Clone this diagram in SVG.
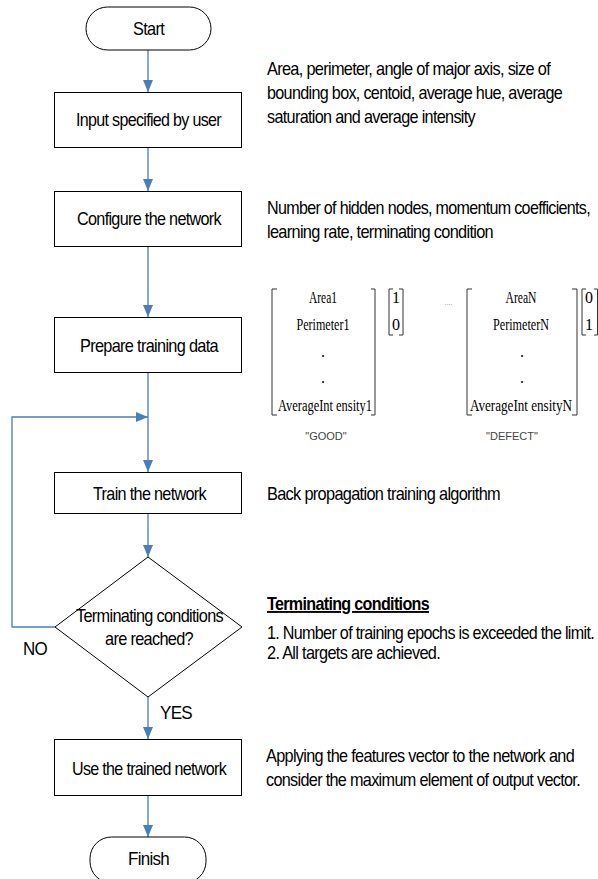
<svg xmlns="http://www.w3.org/2000/svg" width="598" height="879" viewBox="0 0 598 879">
<style>
.bg{fill:#fff}
.shape{fill:#fff;stroke:#000;stroke-width:1}
.t{font-family:"Liberation Sans",Arial,sans-serif;font-size:19px;fill:#000;letter-spacing:-0.8px}
.c{text-anchor:middle}
.m{font-family:"Liberation Serif","Times New Roman",serif;font-size:16px;fill:#000;text-anchor:middle}
.q{font-family:"Liberation Sans",Arial,sans-serif;font-size:11px;fill:#444;text-anchor:middle}
.br{fill:none;stroke:#333;stroke-width:1}
.conn{fill:none;stroke:#4a7ebb;stroke-width:1.3}
</style>
<defs>
<marker id="ah" markerUnits="userSpaceOnUse" markerWidth="12" markerHeight="10" refX="12" refY="5" orient="auto">
<path d="M0,0 L12,5 L0,10 z" fill="#4a7ebb"/>
</marker>
</defs>
<rect class="bg" x="0" y="0" width="598" height="879"/>

<g id="connectors">
<line class="conn" x1="148" y1="50" x2="148" y2="92" marker-end="url(#ah)"/>
<line class="conn" x1="148" y1="148" x2="148" y2="191" marker-end="url(#ah)"/>
<line class="conn" x1="148" y1="247" x2="148" y2="317" marker-end="url(#ah)"/>
<line class="conn" x1="148" y1="373" x2="148" y2="472" marker-end="url(#ah)"/>
<polyline class="conn" points="55,627 12,627 12,417 148,417" marker-end="url(#ah)"/>
<line class="conn" x1="148" y1="514" x2="148" y2="557" marker-end="url(#ah)"/>
<line class="conn" x1="148" y1="697" x2="148" y2="739" marker-end="url(#ah)"/>
<line class="conn" x1="148" y1="796" x2="148" y2="837" marker-end="url(#ah)"/>
<text class="t" x="23" y="655" textLength="24" lengthAdjust="spacingAndGlyphs">NO</text>
<text class="t" x="160" y="719" textLength="32" lengthAdjust="spacingAndGlyphs">YES</text>
</g>

<g id="start">
<rect class="shape" x="86" y="7" width="125" height="43" rx="21.5" ry="21.5"/>
<text class="t c" x="148.5" y="35" textLength="31" lengthAdjust="spacingAndGlyphs">Start</text>
</g>

<g id="input">
<rect class="shape" x="54.5" y="92.5" width="187" height="55"/>
<text class="t c" x="148.5" y="126" textLength="145" lengthAdjust="spacingAndGlyphs">Input specified by user</text>
</g>

<g id="configure">
<rect class="shape" x="54.5" y="191.5" width="187" height="55"/>
<text class="t c" x="149" y="225" textLength="144" lengthAdjust="spacingAndGlyphs">Configure the network</text>
</g>

<g id="prepare">
<rect class="shape" x="54.5" y="317.5" width="187" height="55"/>
<text class="t c" x="149" y="352" textLength="138" lengthAdjust="spacingAndGlyphs">Prepare training data</text>
</g>

<g id="train">
<rect class="shape" x="54.5" y="472.5" width="187" height="41"/>
<text class="t c" x="149.5" y="500" textLength="113" lengthAdjust="spacingAndGlyphs">Train the network</text>
</g>

<g id="decision">
<polygon class="shape" points="148,557 242,627 148,697 55,627"/>
<text class="t c" x="149.5" y="622" textLength="147" lengthAdjust="spacingAndGlyphs">Terminating conditions</text>
<text class="t c" x="149" y="645" textLength="88" lengthAdjust="spacingAndGlyphs">are reached?</text>
</g>

<g id="use">
<rect class="shape" x="54.5" y="739.5" width="187" height="56"/>
<text class="t c" x="149" y="775" textLength="154" lengthAdjust="spacingAndGlyphs">Use the trained network</text>
</g>

<g id="finish">
<rect class="shape" x="90" y="837" width="116" height="46" rx="21.5" ry="21.5"/>
<text class="t c" x="148.5" y="865" textLength="41" lengthAdjust="spacingAndGlyphs">Finish</text>
</g>

<g id="note-input">
<text class="t" x="267" y="75" textLength="283" lengthAdjust="spacingAndGlyphs">Area, perimeter, angle of major axis, size of</text>
<text class="t" x="267" y="99" textLength="295" lengthAdjust="spacingAndGlyphs">bounding box, centoid, average hue, average</text>
<text class="t" x="267" y="123" textLength="208" lengthAdjust="spacingAndGlyphs">saturation and average intensity</text>
</g>

<g id="note-configure">
<text class="t" x="267" y="214" textLength="323" lengthAdjust="spacingAndGlyphs">Number of hidden nodes, momentum coefficients,</text>
<text class="t" x="267" y="238" textLength="226" lengthAdjust="spacingAndGlyphs">learning rate, terminating condition</text>
</g>

<g id="note-data">
<path class="br" d="M277,289 H272 V415 H277"/>
<path class="br" d="M371,289 H375 V415 H371"/>
<text class="m" x="323" y="303" textLength="28" lengthAdjust="spacingAndGlyphs">Area1</text>
<text class="m" x="323" y="330" textLength="53" lengthAdjust="spacingAndGlyphs">Perimeter1</text>
<text class="m" x="323" y="357">.</text>
<text class="m" x="323" y="383">.</text>
<text class="m" x="325" y="411" textLength="94" lengthAdjust="spacingAndGlyphs">AverageInt ensity1</text>
<path class="br" d="M393,289 H389 V335 H393"/>
<path class="br" d="M399,289 H403 V335 H399"/>
<text class="m" x="396" y="303">1</text>
<text class="m" x="396" y="330">0</text>
<text x="448.5" y="305" font-family="Liberation Sans, Arial, sans-serif" font-size="7" fill="#888" text-anchor="middle">....</text>
<path class="br" d="M472,289 H467 V415 H472"/>
<path class="br" d="M572,289 H577 V415 H572"/>
<text class="m" x="521" y="303" textLength="31" lengthAdjust="spacingAndGlyphs">AreaN</text>
<text class="m" x="521" y="330" textLength="56" lengthAdjust="spacingAndGlyphs">PerimeterN</text>
<text class="m" x="522" y="357">.</text>
<text class="m" x="522" y="383">.</text>
<text class="m" x="521" y="411" textLength="102" lengthAdjust="spacingAndGlyphs">AverageInt ensityN</text>
<path class="br" d="M586,289 H582 V335 H586"/>
<path class="br" d="M594,289 H597.5 V335 H594"/>
<text class="m" x="589" y="303">0</text>
<text class="m" x="589" y="330">1</text>
<text class="q" x="326" y="440">"GOOD"</text>
<text class="q" x="512" y="440">"DEFECT"</text>
</g>

<g id="note-train">
<text class="t" x="267" y="500" textLength="233" lengthAdjust="spacingAndGlyphs">Back propagation training algorithm</text>
</g>

<g id="note-terminate">
<text class="t" x="267" y="610" textLength="162" lengthAdjust="spacingAndGlyphs" font-weight="bold" text-decoration="underline">Terminating conditions</text>
<text class="t" x="267" y="639" textLength="327" lengthAdjust="spacingAndGlyphs">1. Number of training epochs is exceeded the limit.</text>
<text class="t" x="267" y="659" textLength="173" lengthAdjust="spacingAndGlyphs">2. All targets are achieved.</text>
</g>

<g id="note-use">
<text class="t" x="266" y="762" textLength="308" lengthAdjust="spacingAndGlyphs">Applying the features vector to the network and</text>
<text class="t" x="266" y="786" textLength="314" lengthAdjust="spacingAndGlyphs">consider the maximum element of output vector.</text>
</g>
</svg>
